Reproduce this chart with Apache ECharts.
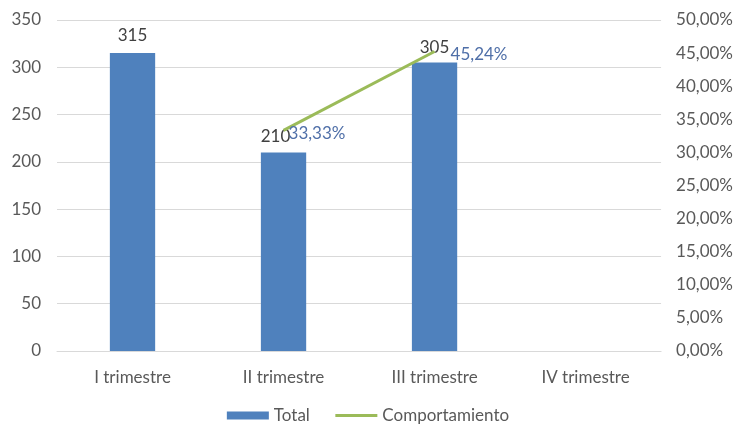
<!DOCTYPE html>
<html>
<head>
<meta charset="utf-8">
<script src="https://cdn.jsdelivr.net/npm/echarts@6/dist/echarts.min.js"></script>
<style>
  html, body { margin: 0; padding: 0; background: #fff; }
  #chart { width: 736px; height: 428px; }
</style>
</head>
<body>
<div id="chart"></div>
<script>
// Quarterly totals and the change between quarters
const categories = ['I trimestre', 'II trimestre', 'III trimestre', 'IV trimestre'];
const totals = [315, 210, 305, null];
const comportamiento = [null, 0.3333, 0.4524, null];

const FONT = 'Lato, "Open Sans", sans-serif';
const FS = 17;
const pct = v => (v * 100).toFixed(2).replace('.', ',') + '%';

// Small label nudges so neighbouring labels do not collide
const barLabelOffsets = [[0, 0], [-8, 2], [0, 2], [0, 0]];
const lineLabelOffsets = [[0, 0], [2, 3], [13, 3], [0, 0]];

const chart = echarts.init(document.getElementById('chart'));
chart.setOption({
  animation: false,
  textStyle: { fontFamily: FONT },
  grid: { left: 57, right: 73, top: 20, bottom: 77 },
  legend: {
    top: 402,
    left: 'center',
    padding: [5, 5, 0, 5],
    itemGap: 24,
    itemWidth: 42,
    itemHeight: 8,
    textStyle: { fontFamily: FONT, fontSize: FS, color: '#595959' },
    data: [
      { name: 'Total', icon: 'rect' },
      { name: 'Comportamiento', itemStyle: { opacity: 0 }, lineStyle: { width: 3 } }
    ]
  },
  xAxis: {
    type: 'category',
    data: categories,
    axisLine: { lineStyle: { color: '#d9d9d9', width: 1 } },
    axisTick: { show: false },
    axisLabel: { color: '#595959', fontSize: FS, margin: 18, fontFamily: FONT }
  },
  yAxis: [
    {
      type: 'value', min: 0, max: 350, interval: 50,
      axisLine: { show: false }, axisTick: { show: false },
      axisLabel: { color: '#595959', fontSize: FS, margin: 16, fontFamily: FONT },
      splitLine: { lineStyle: { color: '#d9d9d9', width: 1 } }
    },
    {
      type: 'value', min: 0, max: 0.5, interval: 0.05,
      axisLine: { show: false }, axisTick: { show: false },
      axisLabel: { color: '#595959', fontSize: FS, margin: 15, fontFamily: FONT, formatter: pct },
      splitLine: { show: false }
    }
  ],
  series: [
    {
      name: 'Total',
      type: 'bar',
      data: totals.map((v, i) => ({ value: v, label: { offset: barLabelOffsets[i] } })),
      barWidth: '30%',
      itemStyle: { color: '#4f81bd' },
      label: {
        show: true, position: 'top', distance: 9,
        color: '#404040', fontSize: FS, fontFamily: FONT
      }
    },
    {
      name: 'Comportamiento',
      type: 'line',
      yAxisIndex: 1,
      data: comportamiento.map((v, i) => ({ value: v, label: { offset: lineLabelOffsets[i] } })),
      symbol: 'circle',
      symbolSize: 0,
      showSymbol: true,
      connectNulls: false,
      lineStyle: { color: '#9bbb59', width: 3 },
      itemStyle: { color: '#9bbb59' },
      label: {
        show: true, position: 'right', distance: 3,
        color: '#4f6fa8', fontSize: FS, fontFamily: FONT,
        formatter: p => pct(p.value)
      }
    }
  ]
});
</script>
</body>
</html>
